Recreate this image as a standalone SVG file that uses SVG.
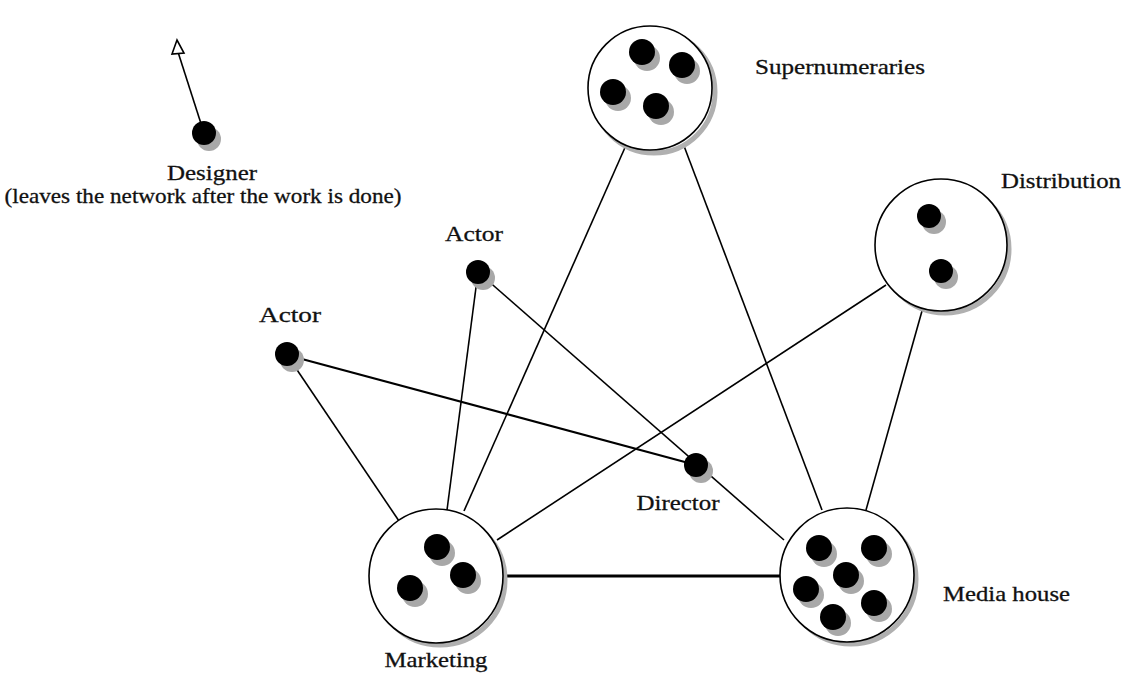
<svg xmlns="http://www.w3.org/2000/svg" width="1129" height="675" viewBox="0 0 1129 675">
<defs>
<style>
.bg{fill:#ffffff}
.ln{stroke:#000;stroke-width:1.6;fill:none}
.thick{stroke:#000;stroke-width:3;fill:none}
.ring{fill:#fff;stroke:#000;stroke-width:1.6}
.rshadow{fill:none;stroke:#b0b0b0;stroke-width:5}
.dot{fill:#000}
.dshadow{fill:#a8a8a8}
.lbl{font-family:"Liberation Serif","Times New Roman",serif;font-size:22px;fill:#111;stroke:#111;stroke-width:0.3}
</style>
</defs>
<rect class="bg" x="0" y="0" width="1129" height="675"/>
<g id="connectors">
<line class="ln" x1="204" y1="133" x2="178" y2="52"/>
<polygon points="177,40 172,54 184,53" fill="#fff" stroke="#000" stroke-width="1.6"/>
<line class="ln" x1="287" y1="355" x2="696" y2="465" style="stroke-width:2.2"/>
<line class="ln" x1="287" y1="355" x2="399" y2="521"/>
<line class="ln" x1="478" y1="272" x2="447" y2="510"/>
<line class="ln" x1="478" y1="272" x2="784" y2="540"/>
<line class="ln" x1="627" y1="143" x2="464" y2="511"/>
<line class="ln" x1="684" y1="146" x2="822" y2="510"/>
<line class="ln" x1="886" y1="285" x2="497" y2="540"/>
<line class="ln" x1="922" y1="311" x2="866" y2="510"/>
<line class="thick" x1="503" y1="576" x2="780" y2="576"/>
</g>
<g id="designer">
<circle class="dshadow" cx="209" cy="139" r="12"/>
<circle class="dot" cx="204" cy="133" r="12"/>
<text class="lbl" x="212" y="180" text-anchor="middle" textLength="90" lengthAdjust="spacingAndGlyphs">Designer</text>
<text class="lbl" x="203" y="203" text-anchor="middle" textLength="397" lengthAdjust="spacingAndGlyphs">(leaves the network after the work is done)</text>
</g>
<g id="actor-left">
<circle class="dshadow" cx="292" cy="360" r="12"/>
<circle class="dot" cx="287" cy="354" r="12"/>
<text class="lbl" x="290" y="322" text-anchor="middle" textLength="62" lengthAdjust="spacingAndGlyphs">Actor</text>
</g>
<g id="actor-top">
<circle class="dshadow" cx="483" cy="278" r="12"/>
<circle class="dot" cx="478" cy="272" r="12"/>
<text class="lbl" x="474" y="241" text-anchor="middle" textLength="58" lengthAdjust="spacingAndGlyphs">Actor</text>
</g>
<g id="director">
<circle class="dshadow" cx="701" cy="471" r="12"/>
<circle class="dot" cx="696" cy="465" r="12"/>
<text class="lbl" x="678" y="510" text-anchor="middle" textLength="83" lengthAdjust="spacingAndGlyphs">Director</text>
</g>
<g id="supernumeraries">
<circle class="rshadow" cx="654" cy="92" r="61"/>
<circle class="ring" cx="650" cy="88" r="62"/>
<circle class="dshadow" cx="647" cy="58" r="13"/><circle class="dot" cx="642" cy="52" r="13"/>
<circle class="dshadow" cx="687" cy="71" r="13"/><circle class="dot" cx="682" cy="65" r="13"/>
<circle class="dshadow" cx="618" cy="98" r="13"/><circle class="dot" cx="613" cy="92" r="13"/>
<circle class="dshadow" cx="661" cy="112" r="13"/><circle class="dot" cx="656" cy="106" r="13"/>
<text class="lbl" x="755" y="74" textLength="170" lengthAdjust="spacingAndGlyphs">Supernumeraries</text>
</g>
<g id="distribution">
<circle class="rshadow" cx="945" cy="249" r="64"/>
<circle class="ring" cx="941" cy="245" r="66"/>
<circle class="dshadow" cx="934" cy="222" r="12"/><circle class="dot" cx="929" cy="216" r="12"/>
<circle class="dshadow" cx="946" cy="277" r="12"/><circle class="dot" cx="941" cy="271" r="12"/>
<text class="lbl" x="1001" y="188" textLength="120" lengthAdjust="spacingAndGlyphs">Distribution</text>
</g>
<g id="marketing">
<circle class="rshadow" cx="440" cy="580" r="65"/>
<circle class="ring" cx="436" cy="576" r="67"/>
<circle class="dshadow" cx="442" cy="553" r="13"/><circle class="dot" cx="437" cy="547" r="13"/>
<circle class="dshadow" cx="468" cy="581" r="13"/><circle class="dot" cx="463" cy="575" r="13"/>
<circle class="dshadow" cx="415" cy="594" r="13"/><circle class="dot" cx="410" cy="588" r="13"/>
<text class="lbl" x="436" y="667" text-anchor="middle" textLength="103" lengthAdjust="spacingAndGlyphs">Marketing</text>
</g>
<g id="media-house">
<circle class="rshadow" cx="851" cy="579" r="65"/>
<circle class="ring" cx="847" cy="575" r="67"/>
<circle class="dshadow" cx="824" cy="554" r="13"/><circle class="dot" cx="819" cy="548" r="13"/>
<circle class="dshadow" cx="879" cy="554" r="13"/><circle class="dot" cx="874" cy="548" r="13"/>
<circle class="dshadow" cx="851" cy="581" r="13"/><circle class="dot" cx="846" cy="575" r="13"/>
<circle class="dshadow" cx="811" cy="595" r="13"/><circle class="dot" cx="806" cy="589" r="13"/>
<circle class="dshadow" cx="879" cy="609" r="13"/><circle class="dot" cx="874" cy="603" r="13"/>
<circle class="dshadow" cx="838" cy="623" r="13"/><circle class="dot" cx="833" cy="617" r="13"/>
<text class="lbl" x="943" y="601" textLength="127" lengthAdjust="spacingAndGlyphs">Media house</text>
</g>
</svg>
